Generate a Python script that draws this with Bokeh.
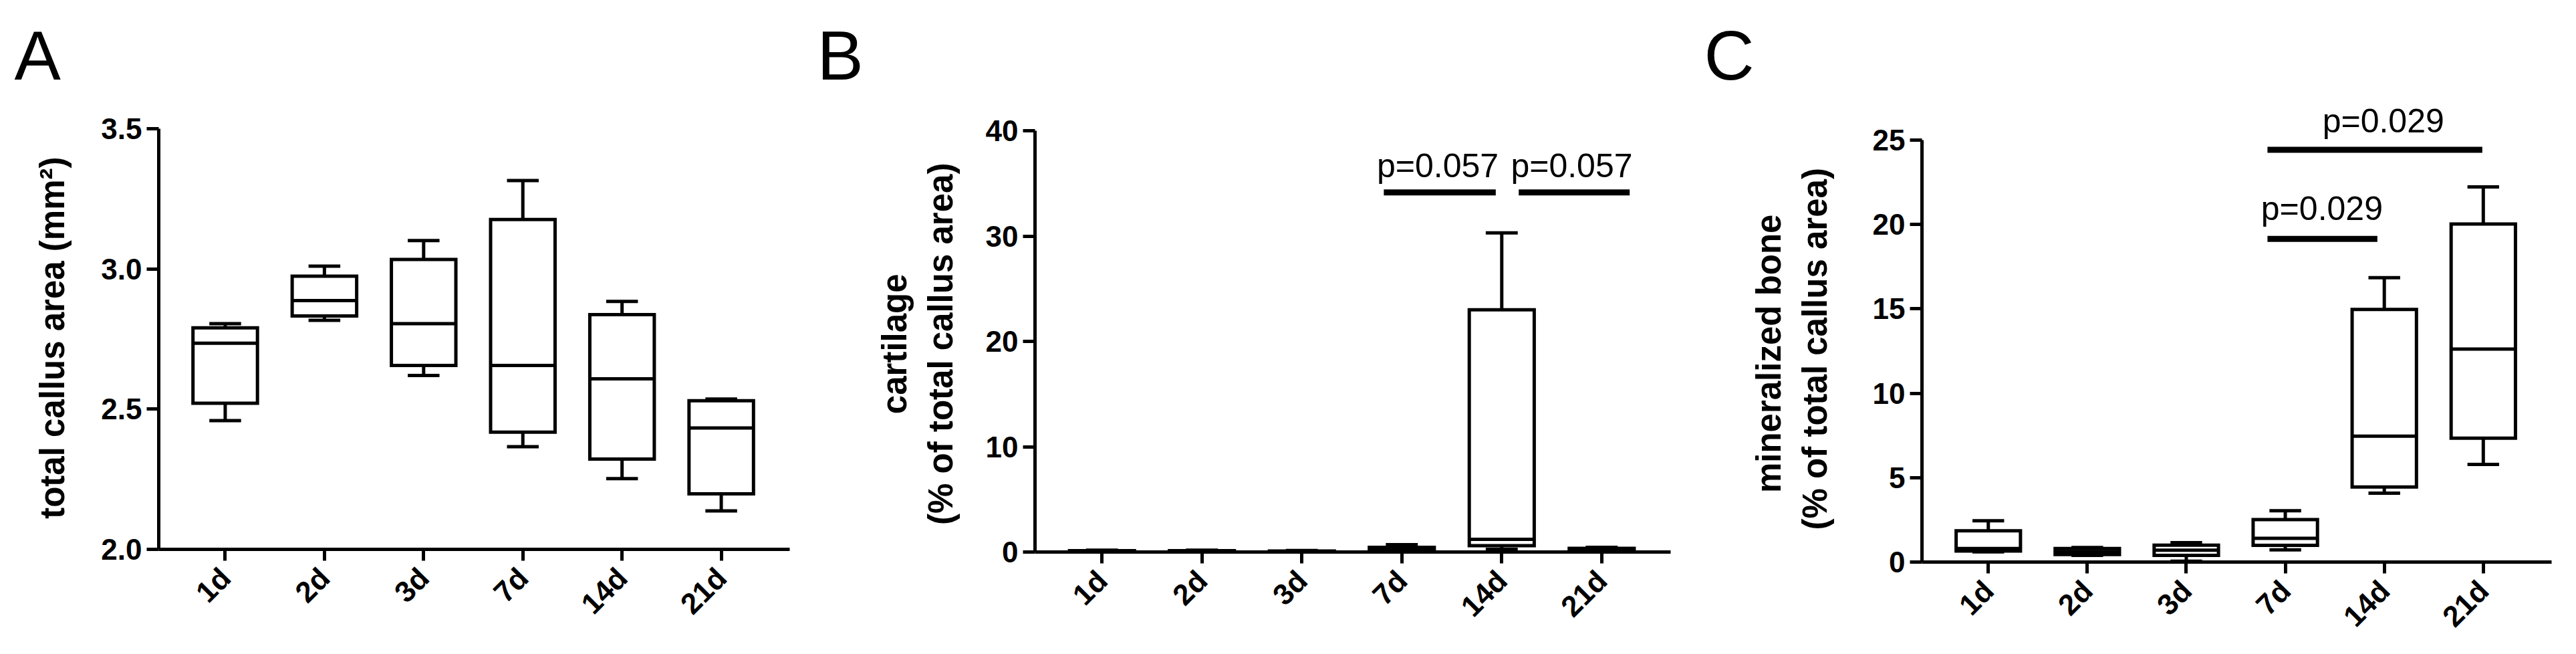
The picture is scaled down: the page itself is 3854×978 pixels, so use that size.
import math
from bokeh.plotting import figure
from bokeh.models import FixedTicker, Range1d
from bokeh.layouts import row
from bokeh.embed import file_html
from bokeh.resources import INLINE
from bokeh.core.properties import value

categories = ["1d", "2d", "3d", "7d", "14d", "21d"]

# Panel A: total callus area (mm^2)  -- min, q1, median, q3, max
area_min = [2.459, 2.817, 2.620, 2.366, 2.252, 2.137]
area_q1 = [2.521, 2.832, 2.656, 2.418, 2.322, 2.198]
area_med = [2.735, 2.887, 2.805, 2.656, 2.608, 2.433]
area_q3 = [2.790, 2.974, 3.034, 3.176, 2.837, 2.530]
area_max = [2.805, 3.010, 3.101, 3.315, 2.884, 2.536]

# Panel B: cartilage (% of total callus area)
cart_min = [0.02, 0.02, 0.02, 0.10, 0.25, 0.10]
cart_q1 = [0.05, 0.05, 0.04, 0.20, 0.60, 0.15]
cart_med = [0.08, 0.08, 0.07, 0.30, 1.20, 0.25]
cart_q3 = [0.12, 0.12, 0.10, 0.45, 23.0, 0.35]
cart_max = [0.18, 0.18, 0.15, 0.70, 30.3, 0.45]

# Panel C: mineralized bone (% of total callus area)
bone_min = [0.60, 0.40, 0.05, 0.72, 4.08, 5.78]
bone_q1 = [0.65, 0.45, 0.40, 0.99, 4.45, 7.34]
bone_med = [0.80, 0.62, 0.70, 1.41, 7.46, 12.62]
bone_q3 = [1.85, 0.80, 1.00, 2.52, 14.97, 20.03]
bone_max = [2.45, 0.86, 1.15, 3.04, 16.85, 22.23]

area_ticks = [2.0, 2.5, 3.0, 3.5]
cart_ticks = [0, 10, 20, 30, 40]
bone_ticks = [0, 5, 10, 15, 20, 25]

# significance annotations: (x_start, x_end, y_bar, text, x_text, y_text_center)
cart_sig = [(2.82, 3.94, 34.14, "p=0.057", 3.36, 36.65),
            (4.17, 5.28, 34.14, "p=0.057", 4.70, 36.65)]
bone_sig = [(2.82, 3.93, 19.15, "p=0.029", 3.37, 20.92),
            (2.82, 4.99, 24.43, "p=0.029", 3.99, 26.11)]

FONT = "Liberation Sans"
TOP = 160          # common frame top (px)
BB = 138           # common bottom border (px)
BOXW = 0.65
CAPW = 0.32
LW = 5
NB = "\u00a0"      # no-break space, nudges the centred axis titles along the axis


def panel(w, bl, br, bot, ylo, yhi, yhi_px, ticks, fmt, stats, letter, letter_off,
          ylabel, ylab_standoff, sig):
    # frame spans TOP..bot; ylo sits on the frame bottom, yhi at yhi_px
    ppu = (bot - yhi_px) / (yhi - ylo)
    y1 = yhi + (yhi_px - TOP) / ppu
    p = figure(width=w, height=bot + BB, x_range=Range1d(-0.67, 5.69), y_range=Range1d(ylo, y1),
               output_backend="svg", toolbar_location=None,
               min_border_left=bl, min_border_right=br, min_border_top=TOP,
               min_border_bottom=BB)
    p.outline_line_color = None
    p.grid.visible = False
    p.background_fill_color = "white"
    p.border_fill_color = "white"

    p.title.text = letter
    p.title.align = "left"
    p.title.offset = letter_off
    p.title.standoff = 40
    p.title.text_font = FONT
    p.title.text_font_style = "normal"
    p.title.text_font_size = "104px"
    p.title.text_color = "black"

    xs = list(range(len(categories)))
    mn, q1, md, q3, mx = stats
    # whiskers
    p.segment(x0=xs, y0=q3, x1=xs, y1=mx, line_color="black", line_width=LW)
    p.segment(x0=xs, y0=q1, x1=xs, y1=mn, line_color="black", line_width=LW)
    p.segment(x0=[x - CAPW / 2 for x in xs], y0=mx, x1=[x + CAPW / 2 for x in xs], y1=mx,
              line_color="black", line_width=LW)
    p.segment(x0=[x - CAPW / 2 for x in xs], y0=mn, x1=[x + CAPW / 2 for x in xs], y1=mn,
              line_color="black", line_width=LW)
    # boxes
    p.quad(left=[x - BOXW / 2 for x in xs], right=[x + BOXW / 2 for x in xs], bottom=q1, top=q3,
           fill_color="white", line_color="black", line_width=LW, line_join="miter")
    p.segment(x0=[x - BOXW / 2 for x in xs], y0=md, x1=[x + BOXW / 2 for x in xs], y1=md,
              line_color="black", line_width=LW)

    for (xa, xb, yb, t, xt, yt) in sig:
        p.segment(x0=[xa], y0=[yb], x1=[xb], y1=[yb], line_color="black", line_width=9)
        p.text(x=[xt], y=[yt], text=[t], text_align="center", text_baseline="middle",
               text_font=value(FONT), text_font_size="50px", text_color="black")

    # axes
    for ax in (p.xaxis[0], p.yaxis[0]):
        ax.axis_line_width = LW
        ax.axis_line_color = "black"
        ax.major_tick_line_width = LW
        ax.major_tick_line_color = "black"
        ax.major_tick_in = 0
        ax.minor_tick_line_color = None
        ax.major_label_text_font = FONT
        ax.major_label_text_font_style = "bold"
        ax.major_label_text_font_size = "44px"
        ax.major_label_text_color = "black"
    p.xaxis.ticker = FixedTicker(ticks=xs)
    p.xaxis.major_label_overrides = {i: c for i, c in enumerate(categories)}
    p.xaxis.major_label_orientation = math.pi / 4
    p.xaxis.major_tick_out = 17
    p.xaxis.major_label_standoff = 18
    p.yaxis.ticker = FixedTicker(ticks=ticks)
    p.yaxis.major_label_overrides = {t: fmt(t) for t in ticks}
    p.yaxis.major_tick_out = 18
    p.yaxis.major_label_standoff = 7
    p.yaxis.bounds = (ylo, yhi)

    p.yaxis.axis_label = ylabel
    p.yaxis.axis_label_standoff = ylab_standoff
    p.yaxis.axis_label_text_font = FONT
    p.yaxis.axis_label_text_font_style = "bold"
    p.yaxis.axis_label_text_font_size = "51px"
    p.yaxis.axis_label_text_color = "black"
    return p


pA = panel(1190, 237, 9, 821, 2.0, 3.5, 192, area_ticks, lambda t: f"{t:.1f}",
           (area_min, area_q1, area_med, area_q3, area_max), "A", 21 - 237,
           "total callus area (mm²)" + NB * 2, 41, [])

pB = panel(1320, 358, 11, 825, 0, 40, 195, cart_ticks, lambda t: f"{t}",
           (cart_min, cart_q1, cart_med, cart_q3, cart_max), "B", 1222 - 1548,
           "cartilage" + NB * 3 + "\n(% of total callus area)" + NB * 3, 36, cart_sig)

pC = panel(1344, 365, 37, 840, 0, 25, 209, bone_ticks, lambda t: f"{t}",
           (bone_min, bone_q1, bone_med, bone_q3, bone_max), "C", 2549 - 2875,
           "mineralized bone" + NB * 4 + "\n(% of total callus area)" + NB * 3, 55, bone_sig)

layout = row(pA, pB, pC, spacing=0)
open("out.html", "w").write(file_html(layout, INLINE))
